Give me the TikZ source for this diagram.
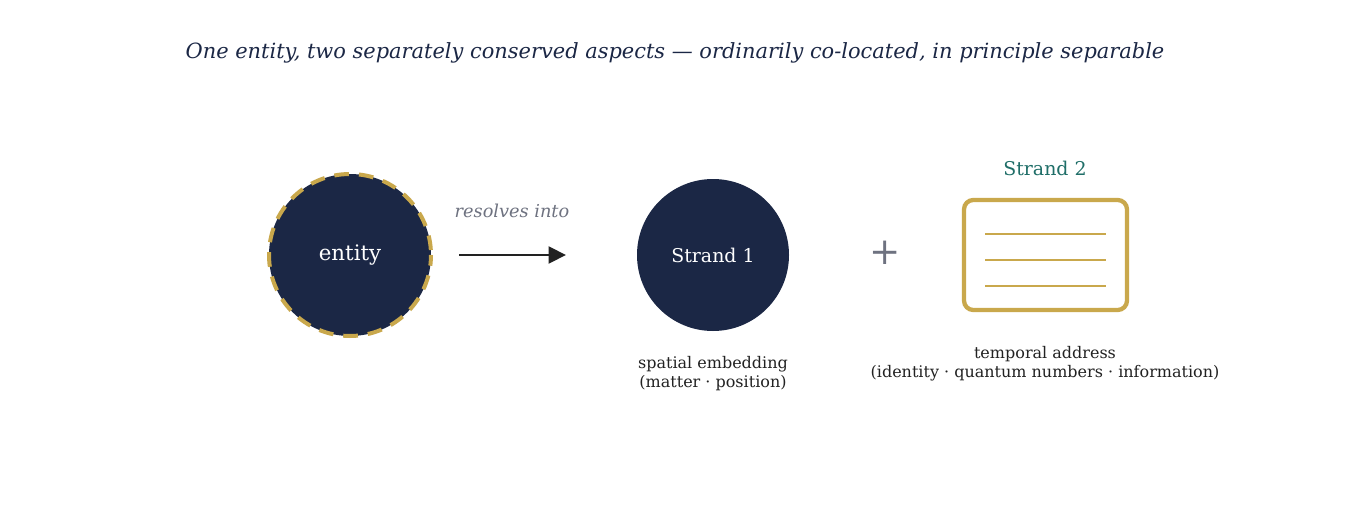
\documentclass[tikz,border=0pt]{standalone}
\usepackage{fontspec}
\setmainfont{DejaVu Serif}
\usetikzlibrary{arrows.meta}
\definecolor{navy}{HTML}{1B2745}
\definecolor{gold}{HTML}{C9A84C}
\definecolor{teal2}{HTML}{1F6E68}
\definecolor{grayt}{HTML}{6E7280}
\definecolor{txt}{HTML}{222222}
\tikzset{
  px/.style={x=0.75pt,y=-0.75pt},
  disc/.style={circle,fill=navy,text=white,inner sep=0pt},
  captext/.style={align=center,text=txt,font=\fontsize{12}{14.3}\selectfont,inner sep=0pt},
  goldline/.style={draw=gold,line width=1.5pt},
}
\begin{document}
\begin{tikzpicture}[px]
\useasboundingbox (0,0) rectangle (1350,510);
\fill[white] (0,0) rectangle (1350,510);
\node[text=navy,font=\itshape\fontsize{15.7}{18}\selectfont] (title) at (675,53) {One entity, two separately conserved aspects — ordinarily co-located, in principle separable};
% entity
\node[disc,minimum size=162*0.75pt,font=\fontsize{16}{18}\selectfont] (entity) at (350,255) {entity};
\draw[gold,line width=3pt,dash pattern=on 11pt off 7.5pt,dash phase=3pt] (entity.center) circle[radius=81];
% arrow
\coordinate (a1) at (459,255);
\coordinate (a2) at (566,255);
\draw[txt,line width=2.2pt,-{Triangle[length=13pt,width=12.5pt]}] (a1) -- (a2);
\node[text=grayt,font=\itshape\fontsize{13.3}{15}\selectfont] (resolves) at (512,211) {resolves into};
% strand 1
\node[disc,minimum size=152*0.75pt,font=\fontsize{14.2}{16}\selectfont] (s1) at (713,255) {Strand 1};
\node[captext] (s1cap) at (713,373.5) {spatial embedding\\(matter · position)};
% plus
\node[text=grayt,font=\fontsize{28}{30}\selectfont] (plus) at (885,253) {+};
% strand 2
\node[draw=gold,line width=3.2pt,rounded corners=7pt,minimum width=163*0.75pt,minimum height=110*0.75pt] (s2) at (1045.5,255) {};
\draw[goldline] (985,234) -- (1106,234);
\draw[goldline] (985,260) -- (1106,260);
\draw[goldline] (985,286) -- (1106,286);
\node[text=teal2,font=\fontsize{14.2}{16}\selectfont] (s2lab) at (1045,168) {Strand 2};
\node[captext] (s2cap) at (1045,363.5) {temporal address\\(identity · quantum numbers · information)};
\end{tikzpicture}
\end{document}
